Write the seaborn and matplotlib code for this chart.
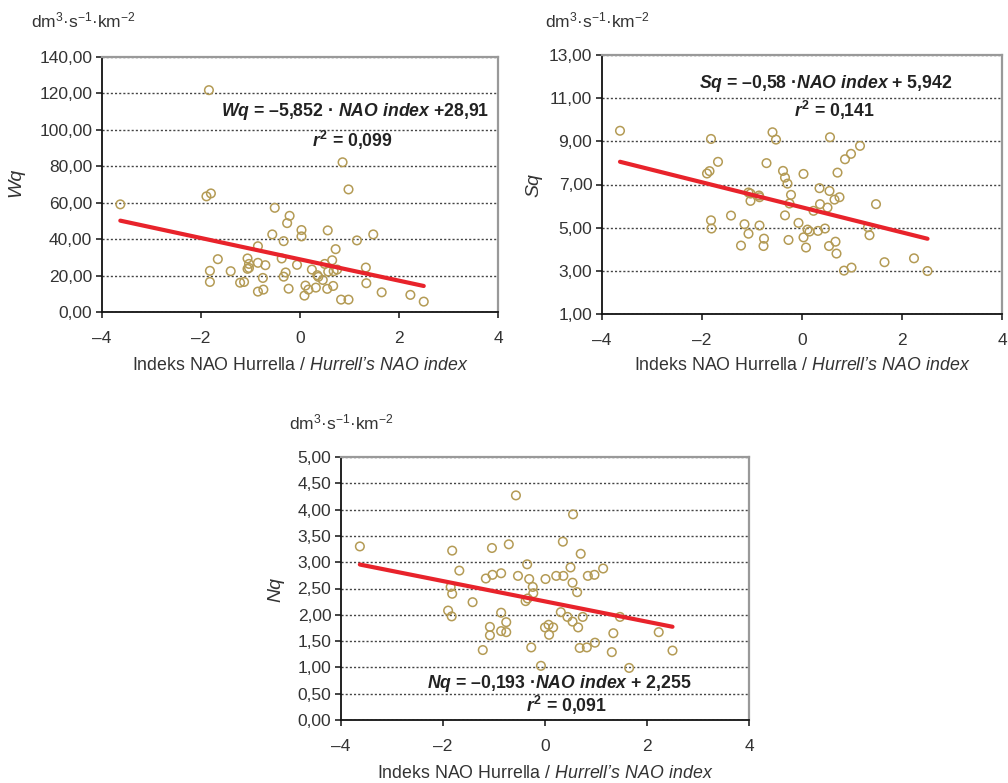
import numpy as np
import matplotlib
matplotlib.use("Agg")
import matplotlib.pyplot as plt
from matplotlib import font_manager
import seaborn as sns

# NAO index vs. specific runoff
wq_nao = [-3.63, -1.84, -1.89, -1.80, -1.82, -1.82, -1.66, -1.40, -1.21, -1.13,
          -1.06, -1.03, -1.06, -1.03, -0.85, -0.85, -0.85, -0.74, -0.75, -0.70,
          -0.56, -0.51, -0.37, -0.33, -0.33, -0.29, -0.26, -0.21, -0.23, -0.06,
          0.03, 0.03, 0.09, 0.11, 0.17, 0.24, 0.32, 0.35, 0.37, 0.46,
          0.50, 0.55, 0.56, 0.57, 0.65, 0.67, 0.68, 0.72, 0.75, 0.83,
          0.86, 0.98, 0.98, 1.15, 1.33, 1.34, 1.48, 1.65, 2.23, 2.50]
wq = [59.1, 121.8, 63.5, 65.1, 22.6, 16.5, 29.0, 22.4, 16.1, 16.5,
      29.4, 26.4, 23.7, 24.2, 36.1, 27.0, 11.2, 12.3, 18.7, 25.7,
      42.6, 57.2, 29.4, 38.9, 19.4, 21.7, 48.8, 52.8, 12.8, 25.9,
      45.0, 41.5, 9.0, 14.5, 12.3, 23.3, 13.4, 20.2, 19.3, 17.6,
      26.4, 12.7, 44.8, 22.2, 28.4, 14.3, 22.4, 34.5, 23.3, 6.8,
      82.2, 67.3, 6.8, 39.3, 24.4, 15.8, 42.6, 10.8, 9.4, 5.7]

sq_nao = [-3.64, -1.82, -1.68, -1.90, -1.85, -1.82, -1.81, -1.42, -1.15, -1.07,
          -1.22, -1.07, -1.03, -1.03, -0.86, -0.85, -0.85, -0.76, -0.77, -0.71,
          -0.59, -0.52, -0.38, -0.34, -0.29, -0.22, -0.25, -0.34, -0.27, -0.07,
          0.03, 0.03, 0.08, 0.11, 0.15, 0.23, 0.32, 0.35, 0.36, 0.46,
          0.51, 0.54, 0.56, 0.55, 0.65, 0.67, 0.69, 0.71, 0.75, 0.84,
          0.86, 0.98, 0.99, 1.16, 1.32, 1.35, 1.48, 1.65, 2.24, 2.51]
sq = [9.49, 9.11, 8.05, 7.51, 7.62, 5.34, 4.96, 5.56, 5.16, 4.72,
      4.17, 6.63, 6.24, 6.58, 6.49, 6.41, 5.10, 4.49, 4.15, 7.99,
      9.42, 9.08, 7.63, 7.32, 7.04, 6.52, 6.12, 5.57, 4.43, 5.22,
      7.49, 4.55, 4.08, 4.91, 4.82, 5.78, 4.85, 6.83, 6.09, 4.96,
      5.93, 4.15, 9.19, 6.70, 6.30, 4.35, 3.80, 7.55, 6.41, 3.01,
      8.17, 8.42, 3.15, 8.79, 5.02, 4.65, 6.09, 3.40, 3.58, 2.99]

nq_nao = [-3.63, -1.82, -1.68, -1.85, -1.82, -1.90, -1.83, -1.42, -1.22, -1.16,
          -1.04, -1.03, -1.08, -1.08, -0.86, -0.86, -0.86, -0.76, -0.76, -0.71,
          -0.57, -0.53, -0.35, -0.31, -0.24, -0.23, -0.38, -0.34, -0.27, -0.08,
          0.01, 0.00, 0.07, 0.08, 0.16, 0.22, 0.31, 0.35, 0.36, 0.44,
          0.50, 0.54, 0.55, 0.54, 0.63, 0.65, 0.68, 0.70, 0.74, 0.82,
          0.84, 0.97, 0.98, 1.14, 1.31, 1.34, 1.47, 1.65, 2.23, 2.50]
nq = [3.30, 3.22, 2.84, 2.53, 2.40, 2.08, 1.97, 2.24, 1.33, 2.69,
      3.27, 2.76, 1.77, 1.61, 2.79, 2.04, 1.69, 1.86, 1.67, 3.34,
      4.27, 2.74, 2.96, 2.68, 2.53, 2.41, 2.26, 2.31, 1.38, 1.03,
      2.68, 1.76, 1.81, 1.62, 1.76, 2.74, 2.05, 3.39, 2.74, 1.96,
      2.90, 2.61, 3.91, 1.87, 2.43, 1.76, 1.37, 3.16, 1.96, 1.38,
      2.74, 2.76, 1.47, 2.88, 1.29, 1.65, 1.96, 0.99, 1.67, 1.32]

# regression coefficients printed on the chart
wq_fit = (-5.852, 28.91)
sq_fit = (-0.58, 5.942)
nq_fit = (-0.193, 2.255)

wq_eq = r"$\mathit{Wq}$ = –5,852 · $\mathit{NAO\ index}$ +28,91"
sq_eq = r"$\mathit{Sq}$ = –0,58 ·$\mathit{NAO\ index}$ + 5,942"
nq_eq = r"$\mathit{Nq}$ = –0,193 ·$\mathit{NAO\ index}$ + 2,255"
wq_r2 = r"$\mathit{r}^{\mathbf{2}}$ = 0,099"
sq_r2 = r"$\mathit{r}^{\mathbf{2}}$ = 0,141"
nq_r2 = r"$\mathit{r}^{\mathbf{2}}$ = 0,091"

xticks = [-4, -2, 0, 2, 4]
xticklabels = ["–4", "–2", "0", "2", "4"]
wq_ticks = [0, 20, 40, 60, 80, 100, 120, 140]
wq_labels = ["0,00", "20,00", "40,00", "60,00", "80,00", "100,00", "120,00", "140,00"]
sq_ticks = [1, 3, 5, 7, 9, 11, 13]
sq_labels = ["1,00", "3,00", "5,00", "7,00", "9,00", "11,00", "13,00"]
nq_ticks = [0, 0.5, 1, 1.5, 2, 2.5, 3, 3.5, 4, 4.5, 5]
nq_labels = ["0,00", "0,50", "1,00", "1,50", "2,00", "2,50", "3,00", "3,50", "4,00", "4,50", "5,00"]

xlabel = r"Indeks NAO Hurrella / $\mathsf{Hurrell’s\ NAO\ index}$"
unit = r"dm$^{3}$·s$^{-1}$·km$^{-2}$"

sns.set_style("white")
names = {f.name for f in font_manager.fontManager.ttflist}
eqfont = "Liberation Sans Narrow" if "Liberation Sans Narrow" in names else "Liberation Sans"
eqsize = 15 if eqfont == "Liberation Sans Narrow" else 12.7
plt.rcParams["font.family"] = ["Liberation Sans", "DejaVu Sans"]
plt.rcParams["mathtext.fontset"] = "custom"
plt.rcParams["mathtext.rm"] = "Liberation Sans"
plt.rcParams["mathtext.sf"] = "Liberation Sans:italic"
plt.rcParams["mathtext.it"] = eqfont + ":italic:bold"
plt.rcParams["mathtext.bf"] = eqfont + ":bold"

TXT = "#333333"
GOLD = "#b49b55"
RED = "#e8232b"
W, H = 1008, 783

fig = plt.figure(figsize=(W / 100, H / 100), dpi=100)


def px(x, y):
    return x / W, 1 - y / H


def panel(rect, x, y, fit, yticks, ylabels, ylabel, eq, r2, eq_xy, r2_xy, unit_xy, ylab_xy, xlab_xy):
    l, t, r, b = rect
    ax = fig.add_axes([l / W, 1 - b / H, (r - l) / W, (b - t) / H])
    sns.scatterplot(x=x, y=y, ax=ax, marker="o", s=38, facecolor="none",
                    edgecolor=GOLD, linewidth=1.1, zorder=3)
    ax.collections[-1].set_facecolor("none")
    xs = np.array([min(x), max(x)])
    sns.lineplot(x=xs, y=fit[0] * xs + fit[1], ax=ax, color=RED, lw=3.0, zorder=4)
    ax.set_xlim(xticks[0], xticks[-1])
    ax.set_ylim(yticks[0], yticks[-1])
    ax.set_xticks(xticks)
    ax.set_xticklabels(xticklabels)
    ax.set_yticks(yticks)
    ax.set_yticklabels(ylabels)
    ax.set_xlabel("")
    ax.set_ylabel("")
    ax.yaxis.grid(True, color="#444444", linestyle=(0, (1.5, 1.5)), lw=1.0)
    ax.xaxis.grid(False)
    ax.set_axisbelow(True)
    for s in ["left", "bottom"]:
        ax.spines[s].set_color("#111111")
        ax.spines[s].set_linewidth(1.3)
    for s in ["top", "right"]:
        ax.spines[s].set_color("#999999")
        ax.spines[s].set_linewidth(1.6)
    ax.tick_params(axis="y", direction="out", length=4, width=1.1, color="#111111",
                   labelsize=12.5, labelcolor=TXT, pad=3, left=True)
    ax.tick_params(axis="x", direction="out", length=4, width=1.1, color="#111111",
                   labelsize=12.5, labelcolor=TXT, pad=10, bottom=True)
    if ax.get_legend():
        ax.get_legend().remove()
    fig.text(*px(*eq_xy), eq, fontsize=eqsize, fontfamily=eqfont, fontweight="bold",
             color="#222222", ha="center", va="center")
    fig.text(*px(*r2_xy), r2, fontsize=eqsize, fontfamily=eqfont, fontweight="bold",
             color="#222222", ha="center", va="center")
    fig.text(*px(*unit_xy), unit, fontsize=12.5, color=TXT, ha="left", va="baseline")
    fig.text(*px(*ylab_xy), ylabel, fontsize=14, fontstyle="italic", color=TXT,
             rotation=90, ha="center", va="center")
    fig.text(*px(*xlab_xy), xlabel, fontsize=12.8, color=TXT, ha="center", va="center")
    return ax


panel((102, 57, 498, 312), wq_nao, wq, wq_fit, wq_ticks, wq_labels, "Wq",
      wq_eq, wq_r2, (355, 112), (352, 140), (31, 27), (16, 182), (300, 365))
panel((602, 55, 1002, 314), sq_nao, sq, sq_fit, sq_ticks, sq_labels, "Sq",
      sq_eq, sq_r2, (826, 83), (834, 110), (545, 27), (534, 185), (802, 365))
panel((341, 457, 749, 720), nq_nao, nq, nq_fit, nq_ticks, nq_labels, "Nq",
      nq_eq, nq_r2, (559, 683), (566, 705), (289, 429), (276, 590), (545, 773))

fig.savefig("out.png", dpi=100, facecolor="white")
